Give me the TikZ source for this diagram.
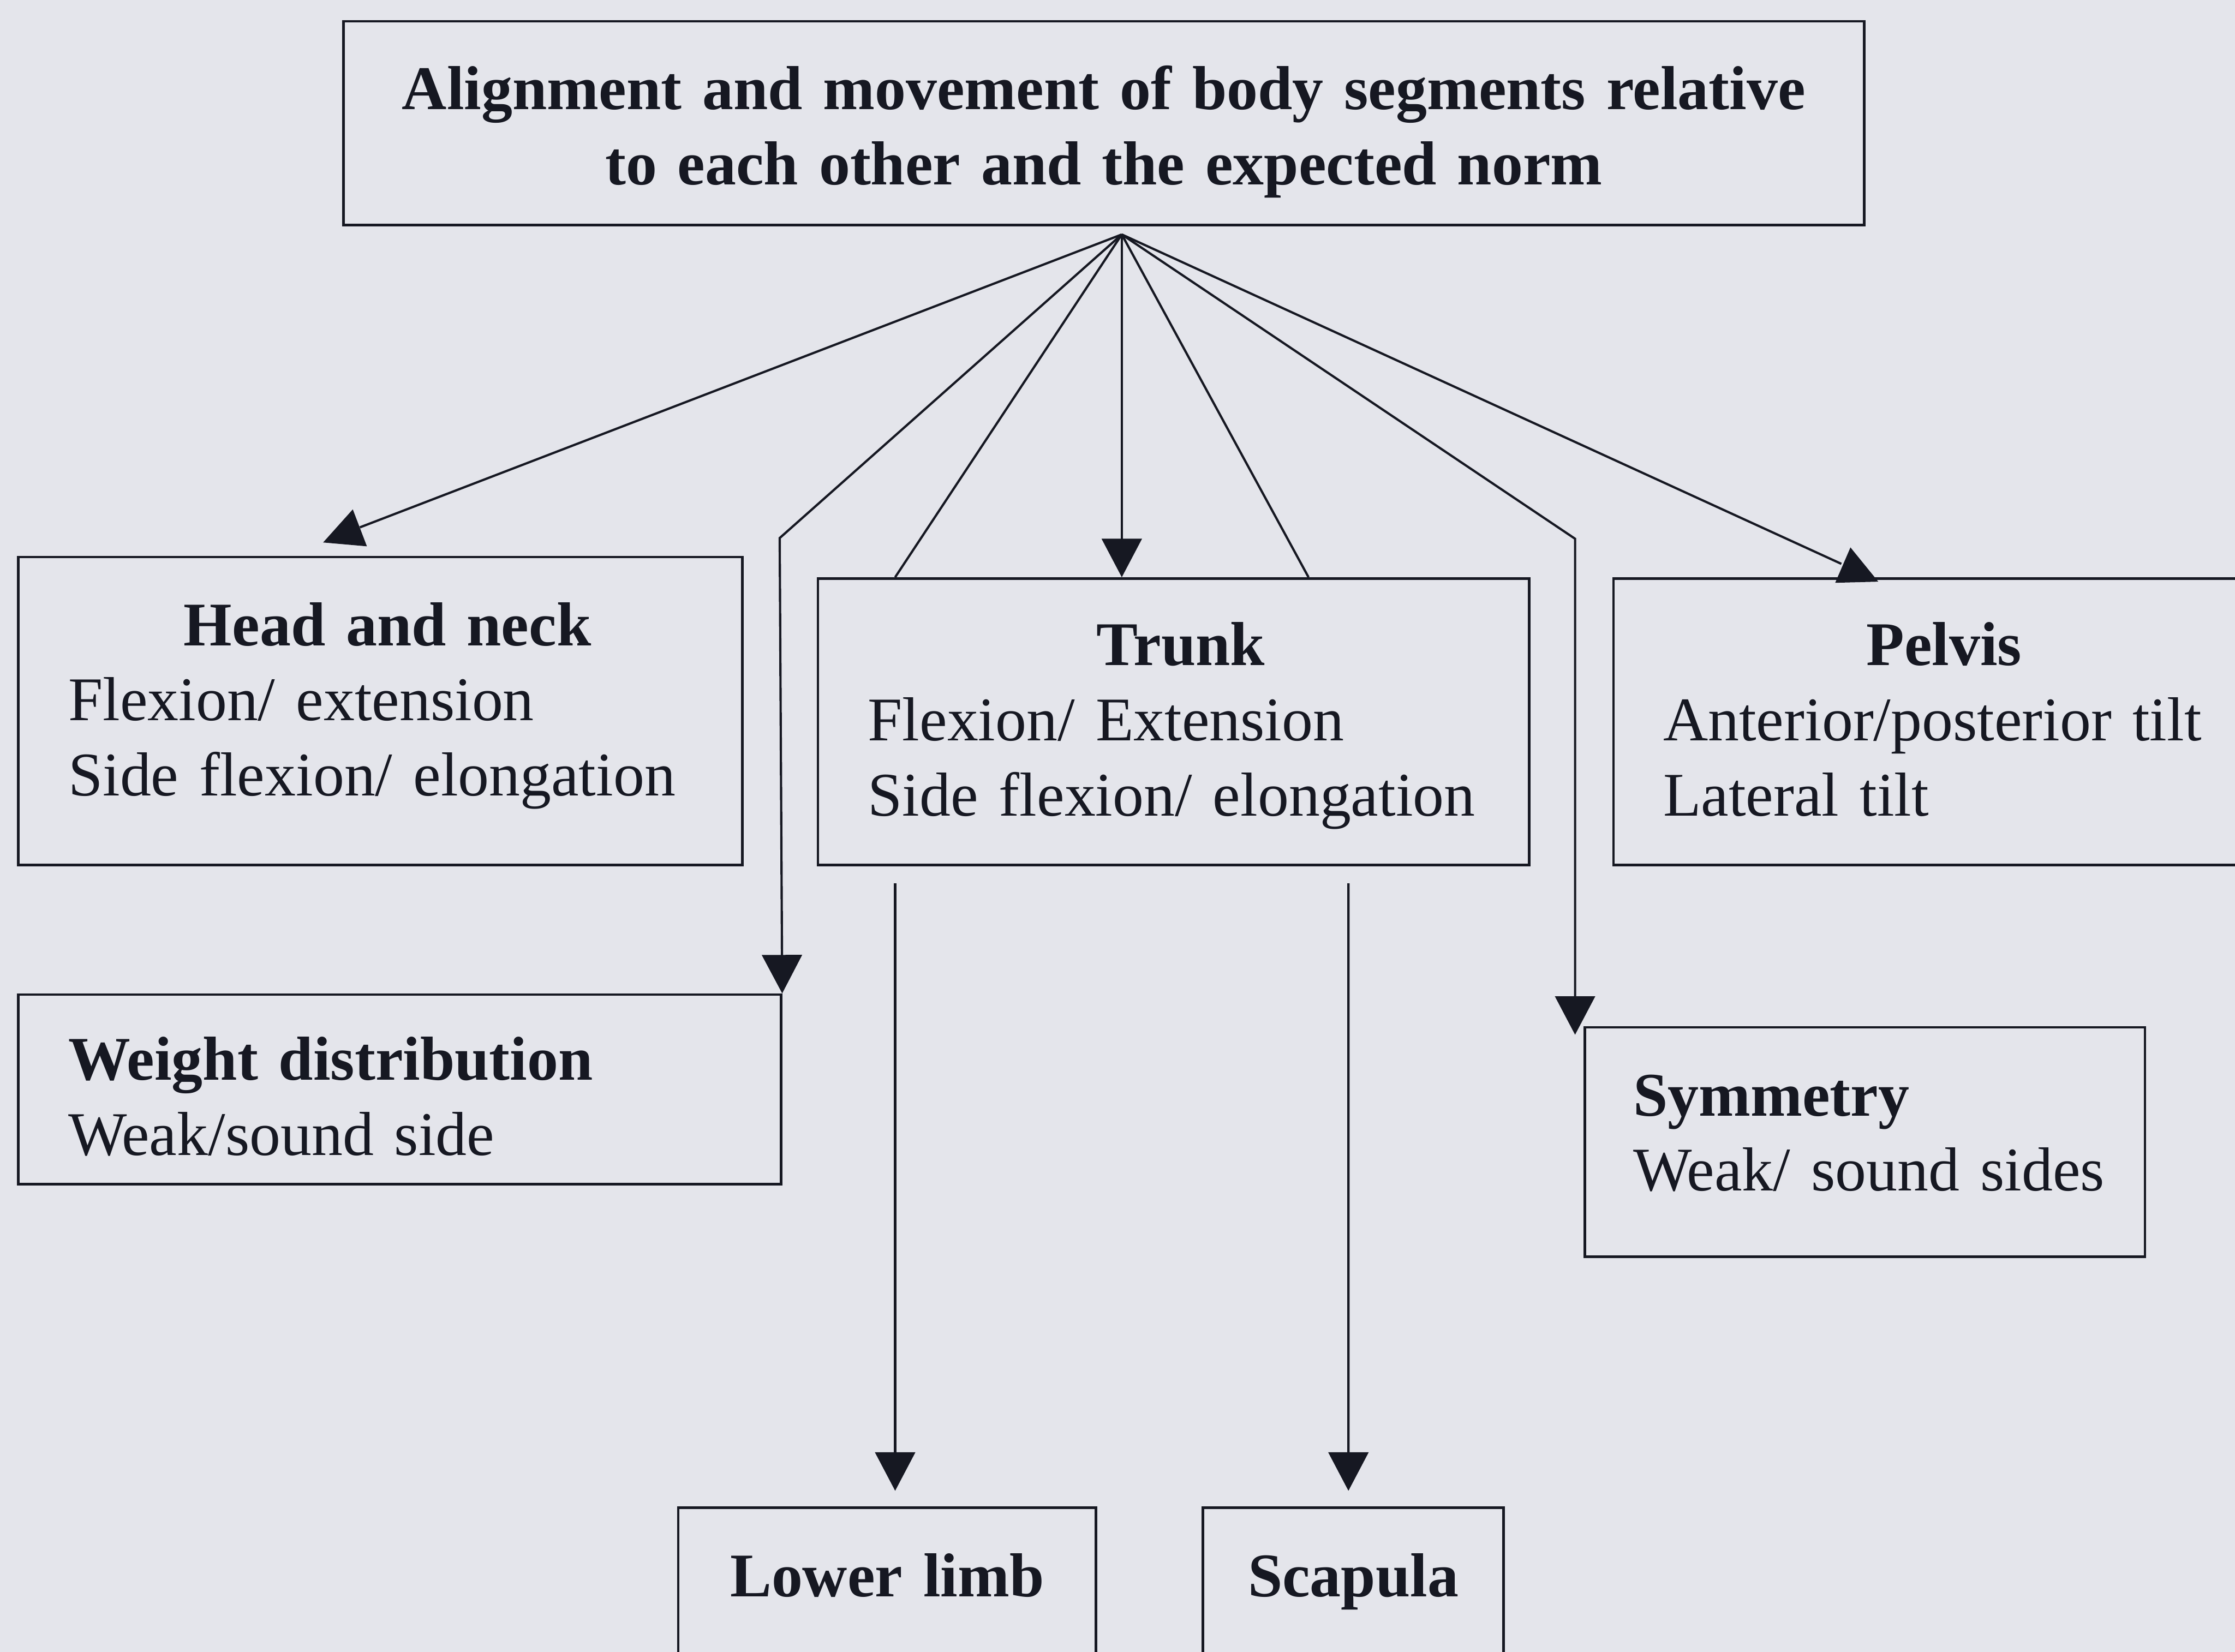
\documentclass[tikz,border=0pt]{standalone}
\usepackage{fontspec}
\setmainfont{Liberation Serif}
\usetikzlibrary{arrows.meta,calc,positioning}
\definecolor{paper}{RGB}{228,229,235}
\definecolor{ink}{RGB}{22,24,34}

\begin{document}
\begin{tikzpicture}[
  font=\fontsize{12.4}{15}\selectfont,
  every node/.style={text=ink},
  seg/.style={draw=ink, line width=0.5pt, rectangle, inner ysep=0pt, inner xsep=0.35cm, align=left, anchor=north west},
  link/.style={draw=ink, line width=0.45pt},
  arrowline/.style={link, -{Triangle[width=2.8mm,length=2.7mm]}},
]
 \useasboundingbox (0,0) rectangle (15.68,-11.59);
 \fill[paper] (0,0) rectangle (15.68,-11.59);
 %
 \node[seg, text width=10.47cm, inner xsep=0.1cm, align=center, text height=0.62cm, text depth=0.81cm] (norm) at (2.40,-0.14)
   {\bfseries Alignment and movement of body segments relative\\ to each other and the expected norm};
 \node[seg, text width=4.38cm, text height=0.62cm, text depth=1.54cm] (headneck) at (0.12,-3.90)
   {\makebox[\linewidth]{\hspace{0.1cm}\bfseries Head and neck}\\ Flexion/ extension\\ \mbox{Side flexion/ elongation}};
 \node[seg, text width=4.29cm, text height=0.61cm, text depth=1.40cm] (trunk) at (5.73,-4.05)
   {\makebox[\linewidth]{\hspace{0.1cm}\bfseries Trunk}\\ Flexion/ Extension\\ \mbox{Side flexion/ elongation}};
 \node[seg, text width=3.94cm, text height=0.61cm, text depth=1.40cm] (pelvis) at (11.31,-4.05)
   {\makebox[\linewidth]{\bfseries Pelvis}\\ \mbox{Anterior/posterior tilt}\\ Lateral tilt};
 \node[seg, text width=4.65cm, text height=0.60cm, text depth=0.73cm] (weight) at (0.12,-6.97)
   {\textbf{Weight distribution}\\ Weak/sound side};
 \node[seg, text width=3.25cm, inner xsep=0.34cm, text height=0.62cm, text depth=0.99cm] (symmetry) at (11.11,-7.20)
   {\textbf{Symmetry}\\ \mbox{Weak/ sound sides}};
 \node[seg, text width=2.73cm, inner xsep=0.1cm, align=center, text height=0.625cm, text depth=1.0cm] (lowerlimb) at (4.75,-10.57)
   {\bfseries Lower limb};
 \node[seg, text width=1.91cm, inner xsep=0.1cm, align=center, text height=0.625cm, text depth=1.0cm] (scapula) at (8.43,-10.57)
   {\bfseries Scapula};
 %
 \coordinate (hub) at (7.87,-1.645);
 \coordinate (headin) at (2.525,-3.70);
 \coordinate (pelvisin) at (12.918,-3.956);
 \coordinate (wbend) at (5.47,-3.775);
 \coordinate (sbend) at (11.05,-3.78);
 \coordinate (stip) at ($(symmetry.north west)+(-0.06,-0.06)$);
 %
 \draw[link] (hub) -- (headin);
 \fill[ink] (2.475,-3.574) -- (2.267,-3.806) -- (2.574,-3.833) -- cycle;
 \draw[arrowline] (hub) -- (wbend) -- (weight.north east);
 \draw[link] (hub) -- ($(trunk.north west)+(0.55,0)$);
 \draw[arrowline] (hub) -- (hub |- trunk.north);
 \draw[link] (hub) -- ($(trunk.north west)+(3.45,0)$);
 \draw[arrowline] (hub) -- (sbend) -- (sbend |- stip);
 \draw[link] (hub) -- (pelvisin);
 \fill[ink] (12.982,-3.841) -- (12.875,-4.089) -- (13.177,-4.081) -- cycle;
 %
 \draw[arrowline] ($(trunk.south west)+(0.55,-0.12)$) -- ($(lowerlimb.north west)+(1.53,0.11)$);
 \draw[arrowline] ($(trunk.south west)+(3.73,-0.12)$) -- ($(scapula.north west)+(1.03,0.11)$);
\end{tikzpicture}
\end{document}
